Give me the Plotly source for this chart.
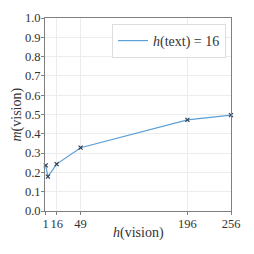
import plotly.graph_objects as go

h_vision = [1, 4, 16, 49, 196, 256]
m_vision = [0.236, 0.178, 0.243, 0.328, 0.472, 0.497]
x_ticks = [1, 16, 49, 196, 256]
y_ticks = [0.0, 0.1, 0.2, 0.3, 0.4, 0.5, 0.6, 0.7, 0.8, 0.9, 1.0]
series_name = "<i>h</i>(text) = 16"
x_title = "<i>h</i>(vision)"
y_title = "<i>m</i>(vision)"

FONT = "Liberation Serif"

fig = go.Figure()
fig.add_trace(go.Scatter(
    x=h_vision, y=m_vision, mode="lines", name=series_name,
    line=dict(color="#5b9fd6", width=1.2),
    cliponaxis=False,
))
fig.add_trace(go.Scatter(
    x=h_vision, y=m_vision, mode="markers", showlegend=False,
    marker=dict(symbol="x-thin", size=4, line=dict(color="#2c3e55", width=1.2), color="#2c3e55"),
    cliponaxis=False,
))

axis_common = dict(
    showline=True, linecolor="#808080", linewidth=1, mirror=True,
    ticks="outside", ticklen=3, tickcolor="#808080",
    showgrid=True, gridcolor="#ececec", gridwidth=1,
    zeroline=False, tickangle=0, automargin=False,
    ticklabelstandoff=-2,
    tickfont=dict(family=FONT, size=12.5, color="#333"),
)

fig.update_layout(
    width=238, height=238,
    margin=dict(l=37, r=15, t=10, b=35),
    paper_bgcolor="white", plot_bgcolor="white",
    font=dict(family=FONT, size=14, color="#333"),
    showlegend=True,
    legend=dict(x=0.973, y=0.969, xanchor="right", yanchor="top",
                bordercolor="#dddddd", borderwidth=1, bgcolor="white",
                itemwidth=30,
                font=dict(family=FONT, size=14, color="#333")),
    xaxis=dict(range=[0, 256], tickvals=x_ticks, ticktext=[str(v) for v in x_ticks],
               **axis_common),
    yaxis=dict(range=[0, 1], tickvals=y_ticks, tickformat=".1f",
               **axis_common),
    annotations=[
        dict(text=x_title, xref="paper", yref="paper", x=0.5, y=0,
             xanchor="center", yanchor="middle", yshift=-22, showarrow=False,
             font=dict(family=FONT, size=14, color="#333")),
        dict(text=y_title, xref="paper", yref="paper", x=0, y=0.5,
             xanchor="center", yanchor="middle", xshift=-29, textangle=-90,
             showarrow=False, font=dict(family=FONT, size=14, color="#333")),
    ],
)

fig.write_html("out.html")
